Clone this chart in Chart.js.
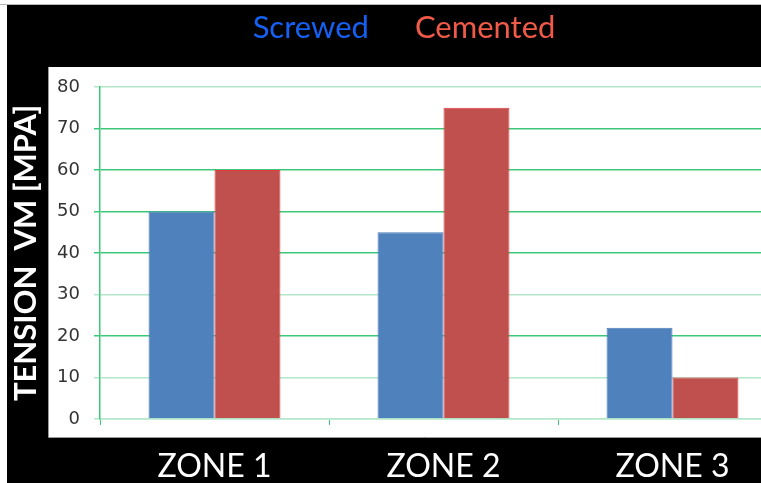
<!DOCTYPE html>
<html><head><meta charset="utf-8">
<script src="https://cdn.jsdelivr.net/npm/chart.js@4"></script>
<style>html,body{margin:0;padding:0;background:#fff;overflow:hidden;width:761px;height:483px}
#wrap{position:relative;width:800px;height:483px}</style></head>
<body><div id="wrap"><canvas id="c" width="800" height="483"></canvas></div>
<script>
const categories = ['ZONE 1', 'ZONE 2', 'ZONE 3'];
const seriesNames = ['Screwed', 'Cemented'];
const screwed = [50, 45, 22];
const cemented = [60, 75, 10];
const yTickValues = [0, 10, 20, 30, 40, 50, 60, 70, 80];
const yTitle = 'TENSION  VM [MPA]';

const gridDark = '#3cc878';
const gridLight = '#b2e8c9';
const lightLines = [0, 10, 30, 80];

const frame = {
  id: 'frame',
  beforeDraw(chart) {
    const ctx = chart.ctx, W = chart.width, H = chart.height;
    ctx.save();
    ctx.fillStyle = '#ffffff'; ctx.fillRect(0, 0, W, H);
    ctx.fillStyle = '#b8b8b8'; ctx.fillRect(0, 4, W, 1);
    ctx.fillStyle = '#000000'; ctx.fillRect(7, 5, W - 7, H - 5);
    ctx.fillStyle = '#ffffff'; ctx.fillRect(48, 67, W - 48, 370);
    ctx.strokeStyle = '#9a9a9a'; ctx.lineWidth = 1;
    ctx.beginPath(); ctx.moveTo(48.5, 67); ctx.lineTo(48.5, 437.5); ctx.lineTo(W, 437.5); ctx.stroke();
    ctx.restore();
  },
  afterDraw(chart) {
    const ctx = chart.ctx;
    ctx.save();
    ctx.font = '31px Lato';
    ctx.textBaseline = 'alphabetic';
    const ds = chart.data.datasets;
    const widths = ds.map(d => ctx.measureText(d.label).width);
    const gap = 46;
    const total = widths.reduce((a, b) => a + b, 0) + gap * (ds.length - 1);
    let x = 404 - total / 2;
    ds.forEach((d, i) => {
      ctx.fillStyle = d.legendColor;
      ctx.fillText(d.label, x, 38);
      x += widths[i] + gap;
    });
    ctx.restore();
  }
};

new Chart(document.getElementById('c'), {
  type: 'bar',
  data: {
    labels: categories,
    datasets: [
      { label: seriesNames[0], data: screwed, backgroundColor: '#4f81bd', borderColor: '#4a7bb7', borderWidth: 1, legendColor: '#1560f2' },
      { label: seriesNames[1], data: cemented, backgroundColor: '#c0504d', borderColor: '#e43a3c', borderWidth: 1, legendColor: '#f05a48' }
    ]
  },
  options: {
    responsive: false,
    animation: false,
    layout: { padding: { left: 7, top: 87, right: 13, bottom: 0 } },
    plugins: { legend: { display: false }, tooltip: { enabled: false } },
    datasets: { bar: { categoryPercentage: 0.576, barPercentage: 1 } },
    scales: {
      x: {
        afterFit(s) { s.height = 64; },
        grid: { offset: true, drawOnChartArea: false, drawTicks: true, tickLength: 6, color: gridDark },
        border: { display: true, color: gridLight, width: 1.5 },
        ticks: { color: '#ffffff', font: { family: 'Lato', size: 32 }, padding: 22 }
      },
      y: {
        min: 0, max: 80,
        afterFit(s) { s.width = 93; },
        afterBuildTicks(s) { s.ticks = yTickValues.map(v => ({ value: v })); },
        grid: {
          tickLength: 6,
          lineWidth: 1.5,
          color: c => lightLines.includes(c.tick && c.tick.value) ? gridLight : gridDark
        },
        border: { display: true, color: gridDark, width: 1.5 },
        ticks: { color: '#333333', font: { family: 'DejaVu Sans', size: 18 }, padding: 14 },
        title: { display: true, text: yTitle, color: '#ffffff', font: { family: 'Lato', size: 31, weight: 'bold' }, padding: { top: 0, bottom: 0 } }
      }
    }
  },
  plugins: [frame]
});
</script></body></html>
